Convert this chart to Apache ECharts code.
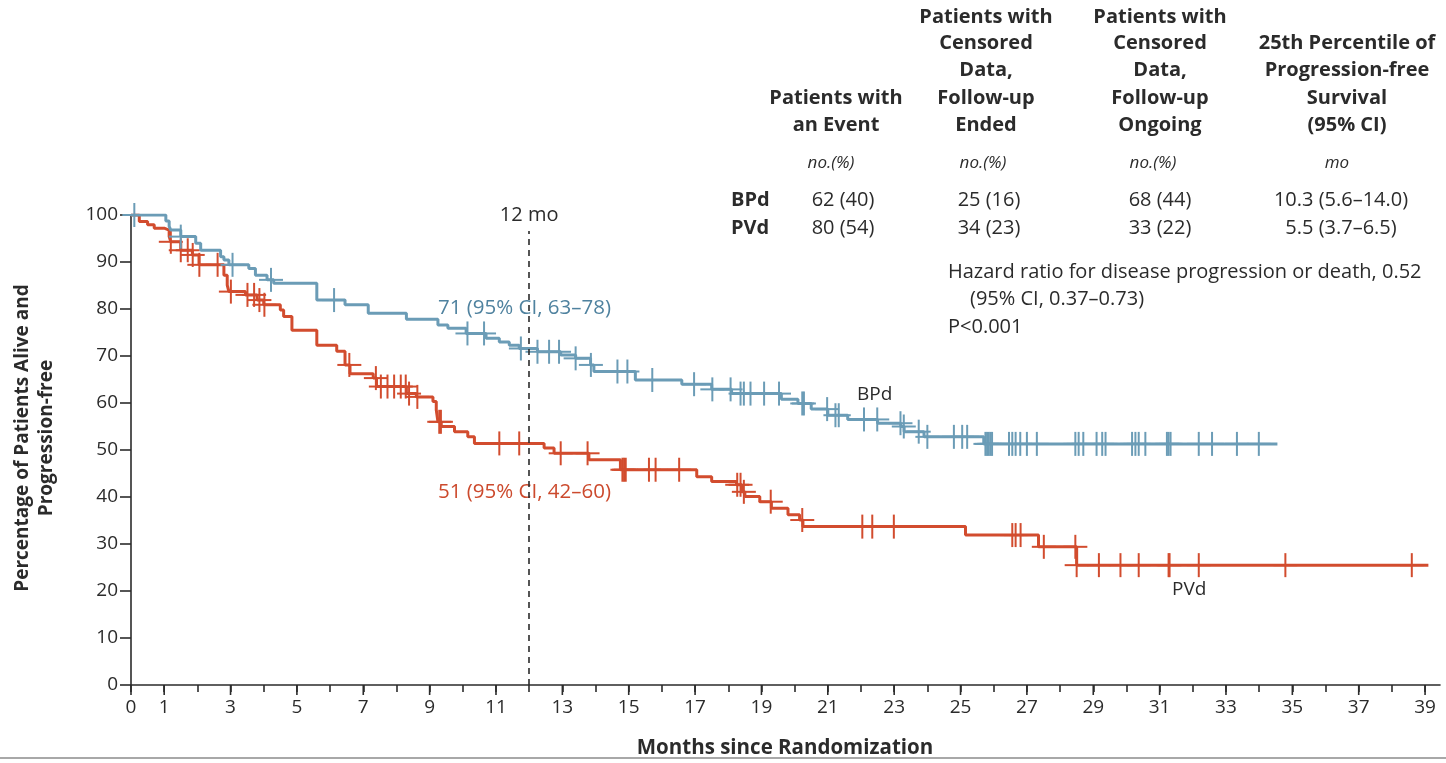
<!DOCTYPE html>
<html><head><meta charset="utf-8">
<script src="https://cdn.jsdelivr.net/npm/echarts@6/dist/echarts.min.js"></script>
<style>html,body{margin:0;padding:0;background:#fff}#c{width:1446px;height:763px}</style>
</head><body><div id="c"></div>
<script>
// ---- Data ----
const bpdTimes = [0, 1.05, 1.15, 1.2, 1.5, 1.95, 2.1, 2.7, 2.8, 2.95, 3.55, 3.75, 4.1, 4.3, 5.6, 6.45, 7.15, 8.3, 9.25, 9.55, 10.1, 10.7, 11.1, 11.4, 11.7, 12.25, 12.95, 13.4, 13.85, 13.95, 15.2, 16.6, 17.5, 18.1, 19.6, 20.1, 20.5, 21.0, 21.6, 22.5, 23.2, 23.3, 23.9, 25.7, 34.55];
const bpdSurv  = [100, 98.7, 97.6, 96.8, 95.4, 94.0, 92.5, 91.1, 90.4, 89.4, 88.6, 87.2, 86.2, 85.5, 81.9, 80.9, 79.1, 77.8, 76.6, 75.9, 74.8, 73.8, 73.0, 72.3, 71.6, 70.9, 70.2, 69.5, 68.1, 66.7, 64.9, 64.0, 62.9, 62.0, 60.8, 59.9, 58.7, 57.4, 56.5, 55.7, 55.0, 53.9, 52.8, 51.3, 51.3];
const pvdTimes = [0, 0.25, 0.5, 0.7, 1.0, 1.15, 1.2, 1.5, 1.85, 2.05, 2.8, 2.9, 2.95, 3.45, 3.8, 4.0, 4.5, 4.6, 4.85, 5.6, 6.2, 6.45, 6.6, 7.3, 7.4, 8.3, 8.6, 9.1, 9.2, 9.25, 9.35, 9.75, 10.15, 10.35, 12.45, 12.75, 13.8, 14.75, 17.05, 17.5, 18.25, 18.4, 18.5, 18.95, 19.3, 19.8, 20.15, 20.25, 25.15, 27.35, 28.5, 39.1];
const pvdSurv  = [100, 98.6, 97.9, 97.2, 96.8, 95.4, 94.3, 92.5, 91.5, 89.4, 87.2, 85.1, 83.7, 83.0, 81.9, 80.9, 79.8, 78.4, 75.5, 72.3, 71.0, 68.1, 66.2, 65.3, 63.5, 62.0, 61.3, 60.3, 58.5, 56.0, 55.0, 53.9, 52.8, 51.4, 50.4, 49.3, 47.9, 45.8, 44.3, 43.3, 42.6, 41.1, 40.1, 39.0, 37.6, 36.2, 35.1, 33.7, 31.9, 29.4, 25.5, 25.5];
const bpdCensor = [0.1, 1.5, 3.06, 4.22, 6.12, 10.14, 10.64, 11.75, 12.25, 12.6, 12.9, 13.4, 13.86, 14.66, 14.96, 15.71, 16.97, 17.52, 18.07, 18.37, 18.47, 18.67, 19.08, 19.53, 20.23, 20.28, 20.98, 21.23, 21.33, 22.09, 22.49, 23.19, 23.29, 23.74, 24.0, 24.8, 25.05, 25.2, 25.75, 25.8, 25.85, 25.9, 25.95, 26.46, 26.56, 26.66, 26.8, 27.0, 27.3, 28.46, 28.56, 28.7, 29.1, 29.27, 29.37, 30.17, 30.27, 30.37, 30.57, 31.22, 31.27, 31.33, 32.18, 32.58, 33.33, 33.99];
const pvdCensor = [1.2, 1.5, 1.71, 1.86, 2.06, 2.61, 3.01, 3.51, 3.71, 3.87, 4.02, 6.58, 7.38, 7.53, 7.73, 7.93, 8.13, 8.28, 8.38, 8.63, 9.29, 9.34, 11.1, 11.7, 12.95, 13.76, 14.81, 14.86, 14.91, 15.61, 15.81, 16.52, 18.27, 18.37, 18.47, 19.28, 20.23, 22.04, 22.34, 22.99, 26.56, 26.66, 26.81, 27.51, 28.46, 28.5, 29.17, 29.82, 30.37, 31.27, 31.3, 32.18, 34.79, 38.6];
const xTickLabels = [0, 1, 3, 5, 7, 9, 11, 13, 15, 17, 19, 21, 23, 25, 27, 29, 31, 33, 35, 37, 39];
const yTicks = [0, 10, 20, 30, 40, 50, 60, 70, 80, 90, 100];
const landmarkMonth = 12;
const bpdLandmarkText = '71 (95% CI, 63\u201378)';
const pvdLandmarkText = '51 (95% CI, 42\u201360)';
const tableHeaders = [
  ['Patients with', 'an Event'],
  ['Patients with', 'Censored', 'Data,', 'Follow-up', 'Ended'],
  ['Patients with', 'Censored', 'Data,', 'Follow-up', 'Ongoing'],
  ['25th Percentile of', 'Progression-free', 'Survival', '(95% CI)']
];
const tableUnits = ['no.(%)', 'no.(%)', 'no.(%)', 'mo'];
const rowLabels = ['BPd', 'PVd'];
const bpdRow = ['62 (40)', '25 (16)', '68 (44)', '10.3 (5.6\u201314.0)'];
const pvdRow = ['80 (54)', '34 (23)', '33 (22)', '5.5 (3.7\u20136.5)'];
const hazardLines = ['Hazard ratio for disease progression or death, 0.52', '(95% CI, 0.37\u20130.73)', 'P<0.001'];

// ---- Styling ----
const FONT = "'Open Sans','Noto Sans',sans-serif";
const BLUE = '#6b9cb6', RED = '#d24c2e';
const BLUE_T = '#4f829f', RED_T = '#cc4a2d';
const INK = '#2b2b2b';

function stepAt(times, surv, t) {
  let v = surv[0];
  for (let i = 0; i < times.length; i++) { if (times[i] <= t) v = surv[i]; else break; }
  return v;
}
const zip = (a, b) => a.map((t, i) => [t, b[i]]);
const censorData = (c, times, surv) => c.map(t => [t, stepAt(times, surv, t)]);

function censorRender(color) {
  return function (params, api) {
    const p = api.coord([api.value(0), api.value(1)]);
    const st = { stroke: color, lineWidth: 2 };
    return { type: 'group', children: [
      { type: 'line', shape: { x1: p[0], y1: p[1] - 12, x2: p[0], y2: p[1] + 12 }, style: st },
      { type: 'line', shape: { x1: p[0] - 12, y1: p[1], x2: p[0] + 12, y2: p[1] }, style: st }
    ]};
  };
}

const chart = echarts.init(document.getElementById('c'));

const colX = [836, 986, 1160, 1347];
const headerLineY = [17, 43, 70, 98, 125];
const graphics = [];
tableHeaders.forEach((lines, ci) => {
  const start = headerLineY.length - lines.length;
  lines.forEach((s, li) => graphics.push({ type: 'text', x: colX[ci], y: headerLineY[start + li],
    style: { text: s, font: 'bold 20px ' + FONT, fill: INK, textAlign: 'center', textVerticalAlign: 'middle' } }));
});
const unitX = [831, 983, 1153, 1337];
tableUnits.forEach((s, ci) => graphics.push({ type: 'text', x: unitX[ci], y: 163,
  style: { text: s, font: 'italic 17px ' + FONT, fill: INK, textAlign: 'center', textVerticalAlign: 'middle' } }));
const valX = [843, 989, 1160, 1341];
[bpdRow, pvdRow].forEach((row, ri) => {
  const y = 200 + ri * 28;
  graphics.push({ type: 'text', x: 731, y: y, style: { text: rowLabels[ri], font: 'bold 20px ' + FONT, fill: INK, textAlign: 'left', textVerticalAlign: 'middle' } });
  row.forEach((s, ci) => graphics.push({ type: 'text', x: valX[ci], y: y,
    style: { text: s, font: '20px ' + FONT, fill: INK, textAlign: 'center', textVerticalAlign: 'middle' } }));
});
hazardLines.forEach((s, i) => graphics.push({ type: 'text', x: i === 1 ? 970 : 948, y: 272 + i * 27.5,
  style: { text: s, font: '20px ' + FONT, fill: INK, textAlign: 'left', textVerticalAlign: 'middle' } }));
graphics.push({ type: 'text', x: 438, y: 308, style: { text: bpdLandmarkText, font: '20.5px ' + FONT, fill: BLUE_T, textAlign: 'left', textVerticalAlign: 'middle' } });
graphics.push({ type: 'text', x: 438, y: 492, style: { text: pvdLandmarkText, font: '20.5px ' + FONT, fill: RED_T, textAlign: 'left', textVerticalAlign: 'middle' } });
graphics.push({ type: 'text', x: 857, y: 395, style: { text: 'BPd', font: '19px ' + FONT, fill: INK, textAlign: 'left', textVerticalAlign: 'middle' } });
graphics.push({ type: 'text', x: 1172, y: 590, style: { text: 'PVd', font: '19px ' + FONT, fill: INK, textAlign: 'left', textVerticalAlign: 'middle' } });
graphics.push({ type: 'text', x: 35, y: 438, rotation: Math.PI / 2,
  style: { text: 'Percentage of Patients Alive and\nProgression-free', font: 'bold 19px ' + FONT, fill: INK, textAlign: 'center', textVerticalAlign: 'middle', lineHeight: 24 } });
graphics.push({ type: 'text', x: 785, y: 748, style: { text: 'Months since Randomization', font: 'bold 20.5px ' + FONT, fill: INK, textAlign: 'center', textVerticalAlign: 'middle' } });
graphics.push({ type: 'rect', shape: { x: 0, y: 757, width: 1446, height: 2 }, style: { fill: '#a8a8a8' } });

chart.setOption({
  animation: false,
  graphic: graphics,
  grid: { left: 131, top: 215, width: 1309, height: 470, containLabel: false },
  xAxis: {
    type: 'value', min: 0, max: 39.45, interval: 1,
    axisLine: { lineStyle: { color: INK, width: 1.6 } },
    axisTick: { length: 7, lineStyle: { color: INK, width: 1.6 } },
    splitLine: { show: false },
    axisLabel: { margin: 13, fontFamily: FONT, fontSize: 19, color: INK,
      formatter: v => xTickLabels.indexOf(v) >= 0 ? String(v) : '' , showMaxLabel: false }
  },
  yAxis: {
    type: 'value', min: 0, max: 100, interval: 10,
    axisLine: { show: true, lineStyle: { color: INK, width: 1.6 } },
    axisTick: { show: true, length: 11, lineStyle: { color: INK, width: 1.6 } },
    splitLine: { show: false },
    axisLabel: { margin: 13, fontFamily: FONT, fontSize: 19, color: INK,
      formatter: v => yTicks.indexOf(v) >= 0 ? String(v) : '' }
  },
  series: [
    { type: 'line', name: 'PVd', step: 'end', data: zip(pvdTimes, pvdSurv), showSymbol: false,
      lineStyle: { color: RED, width: 3 }, z: 3,
      markLine: { silent: true, symbol: 'none', animation: false,
        lineStyle: { color: INK, type: [6, 5], width: 1.6 },
        label: { show: true, position: 'end', formatter: '12 mo', fontFamily: FONT, fontSize: 20, color: INK, distance: 6 },
        data: [[{ coord: [landmarkMonth, 0] }, { coord: [landmarkMonth, 96.6] }]] } },
    { type: 'line', name: 'BPd', step: 'end', data: zip(bpdTimes, bpdSurv), showSymbol: false,
      lineStyle: { color: BLUE, width: 3 }, z: 4 },
    { type: 'custom', name: 'PVd censored', data: censorData(pvdCensor, pvdTimes, pvdSurv),
      renderItem: censorRender(RED), clip: false, z: 3 },
    { type: 'custom', name: 'BPd censored', data: censorData(bpdCensor, bpdTimes, bpdSurv),
      renderItem: censorRender(BLUE), clip: false, z: 4 },
    { type: 'custom', name: 'major ticks', data: xTickLabels.map(v => [v, 0]), clip: false, z: 5,
      renderItem: function (params, api) {
        const p = api.coord([api.value(0), 0]);
        return { type: 'line', shape: { x1: p[0], y1: p[1], x2: p[0], y2: p[1] + 10 }, style: { stroke: INK, lineWidth: 1.6 } };
      } }
  ]
});
</script></body></html>
